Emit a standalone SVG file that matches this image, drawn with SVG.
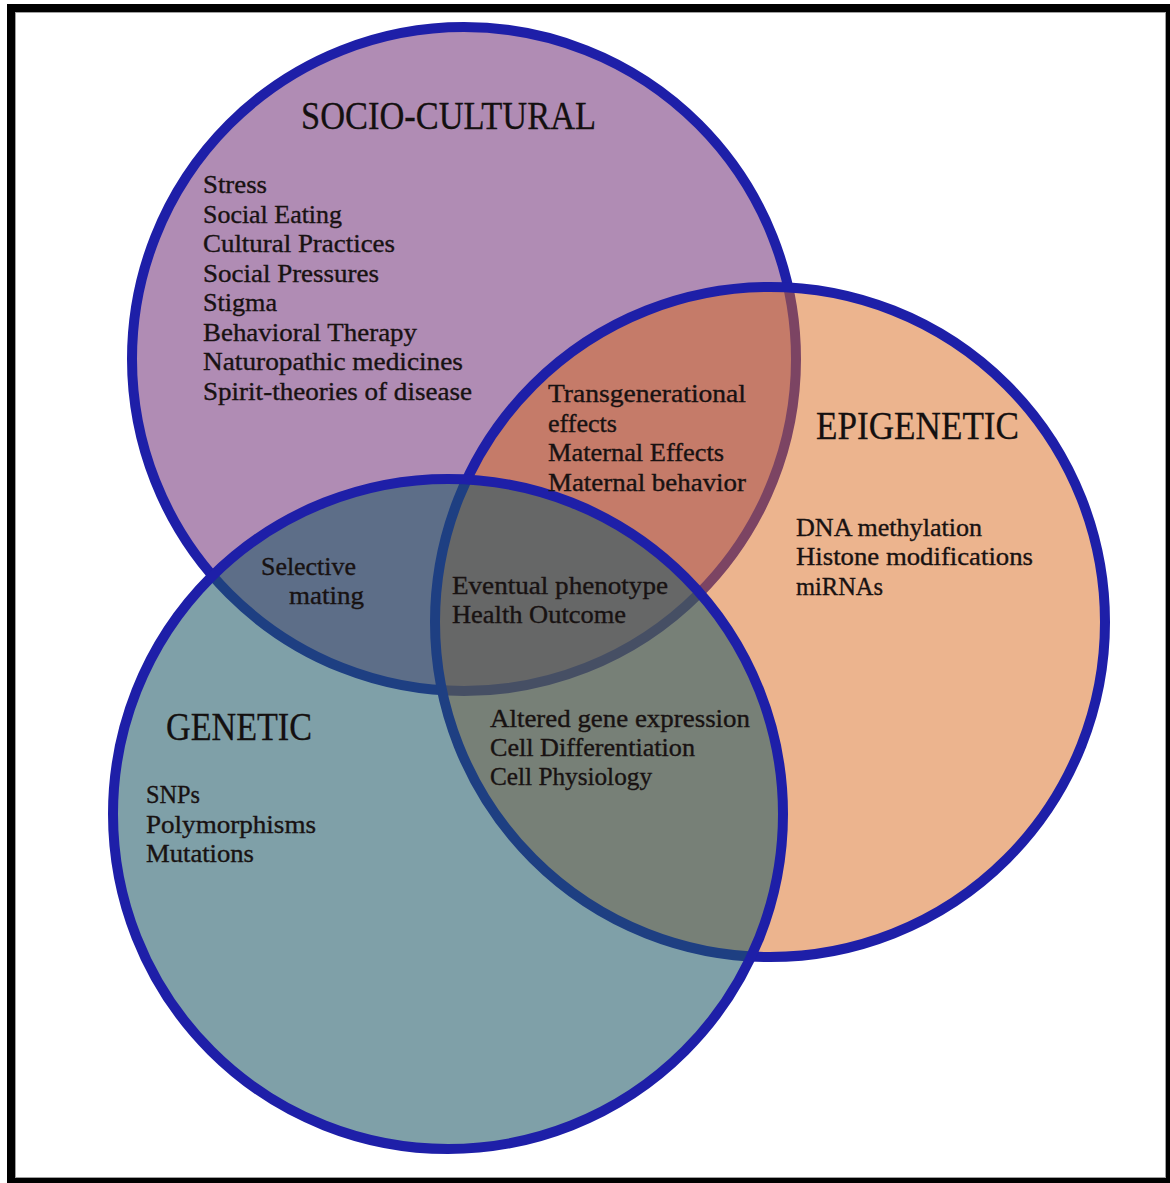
<svg xmlns="http://www.w3.org/2000/svg" width="1170" height="1183" viewBox="0 0 1170 1183">
  <style>
    .ring { stroke: #1e1fa8; stroke-width: 10; }
    .t { font-family: "Liberation Serif", "DejaVu Serif", serif; font-size: 25px; fill: #181212; stroke: #181212; stroke-width: 0.35; }
    .h { font-family: "Liberation Serif", "DejaVu Serif", serif; font-size: 40px; fill: #141010; stroke: #141010; stroke-width: 0.3; }
  </style>
  <rect x="0" y="0" width="1170" height="1183" fill="#ffffff"/>
  <rect x="11" y="8" width="1159" height="1174" fill="none" stroke="#000000" stroke-width="8"/>
  <rect x="15.5" y="12.5" width="1150" height="1165" fill="none" stroke="#a0a0a0" stroke-width="1"/>

  <g id="socio-cultural">
    <circle class="ring" cx="464" cy="359" r="332" fill="#b08cb4"/>
    <text class="h" x="301" y="129" textLength="295" lengthAdjust="spacingAndGlyphs">SOCIO-CULTURAL</text>
    <text class="t" x="203" y="193" textLength="64" lengthAdjust="spacingAndGlyphs">Stress</text>
    <text class="t" x="203" y="222.5" textLength="139" lengthAdjust="spacingAndGlyphs">Social Eating</text>
    <text class="t" x="203" y="252" textLength="192" lengthAdjust="spacingAndGlyphs">Cultural Practices</text>
    <text class="t" x="203" y="281.5" textLength="176" lengthAdjust="spacingAndGlyphs">Social Pressures</text>
    <text class="t" x="203" y="311" textLength="74" lengthAdjust="spacingAndGlyphs">Stigma</text>
    <text class="t" x="203" y="340.5" textLength="214" lengthAdjust="spacingAndGlyphs">Behavioral Therapy</text>
    <text class="t" x="203" y="370" textLength="260" lengthAdjust="spacingAndGlyphs">Naturopathic medicines</text>
    <text class="t" x="203" y="399.5" textLength="269" lengthAdjust="spacingAndGlyphs">Spirit-theories of disease</text>
  </g>

  <g id="epigenetic">
    <circle class="ring" cx="770" cy="622" r="335" fill="#d9691d" fill-opacity="0.5"/>
    <text class="h" x="816" y="439" textLength="203" lengthAdjust="spacingAndGlyphs">EPIGENETIC</text>
    <text class="t" x="796" y="536" textLength="186" lengthAdjust="spacingAndGlyphs">DNA methylation</text>
    <text class="t" x="796" y="565" textLength="237" lengthAdjust="spacingAndGlyphs">Histone modifications</text>
    <text class="t" x="796" y="595" textLength="87" lengthAdjust="spacingAndGlyphs">miRNAs</text>
  </g>

  <g id="genetic">
    <circle class="ring" cx="448" cy="814" r="335" fill="#1e5866" fill-opacity="0.57"/>
    <text class="h" x="166" y="740" textLength="146" lengthAdjust="spacingAndGlyphs">GENETIC</text>
    <text class="t" x="146" y="803" textLength="54" lengthAdjust="spacingAndGlyphs">SNPs</text>
    <text class="t" x="146" y="833" textLength="170" lengthAdjust="spacingAndGlyphs">Polymorphisms</text>
    <text class="t" x="146" y="862" textLength="108" lengthAdjust="spacingAndGlyphs">Mutations</text>
  </g>

  <g id="socio-epigenetic">
    <text class="t" x="548" y="402" textLength="198" lengthAdjust="spacingAndGlyphs">Transgenerational</text>
    <text class="t" x="548" y="432" textLength="69" lengthAdjust="spacingAndGlyphs">effects</text>
    <text class="t" x="548" y="461" textLength="176" lengthAdjust="spacingAndGlyphs">Maternal Effects</text>
    <text class="t" x="548" y="491" textLength="198" lengthAdjust="spacingAndGlyphs">Maternal behavior</text>
  </g>

  <g id="socio-genetic">
    <text class="t" x="261" y="575" textLength="95" lengthAdjust="spacingAndGlyphs">Selective</text>
    <text class="t" x="289" y="604" textLength="75" lengthAdjust="spacingAndGlyphs">mating</text>
  </g>

  <g id="all-three">
    <text class="t" x="452" y="594" textLength="216" lengthAdjust="spacingAndGlyphs">Eventual phenotype</text>
    <text class="t" x="452" y="623" textLength="174" lengthAdjust="spacingAndGlyphs">Health Outcome</text>
  </g>

  <g id="genetic-epigenetic">
    <text class="t" x="490" y="727" textLength="260" lengthAdjust="spacingAndGlyphs">Altered gene expression</text>
    <text class="t" x="490" y="756" textLength="205" lengthAdjust="spacingAndGlyphs">Cell Differentiation</text>
    <text class="t" x="490" y="785" textLength="162" lengthAdjust="spacingAndGlyphs">Cell Physiology</text>
  </g>

  <g id="connectors"/>
</svg>
